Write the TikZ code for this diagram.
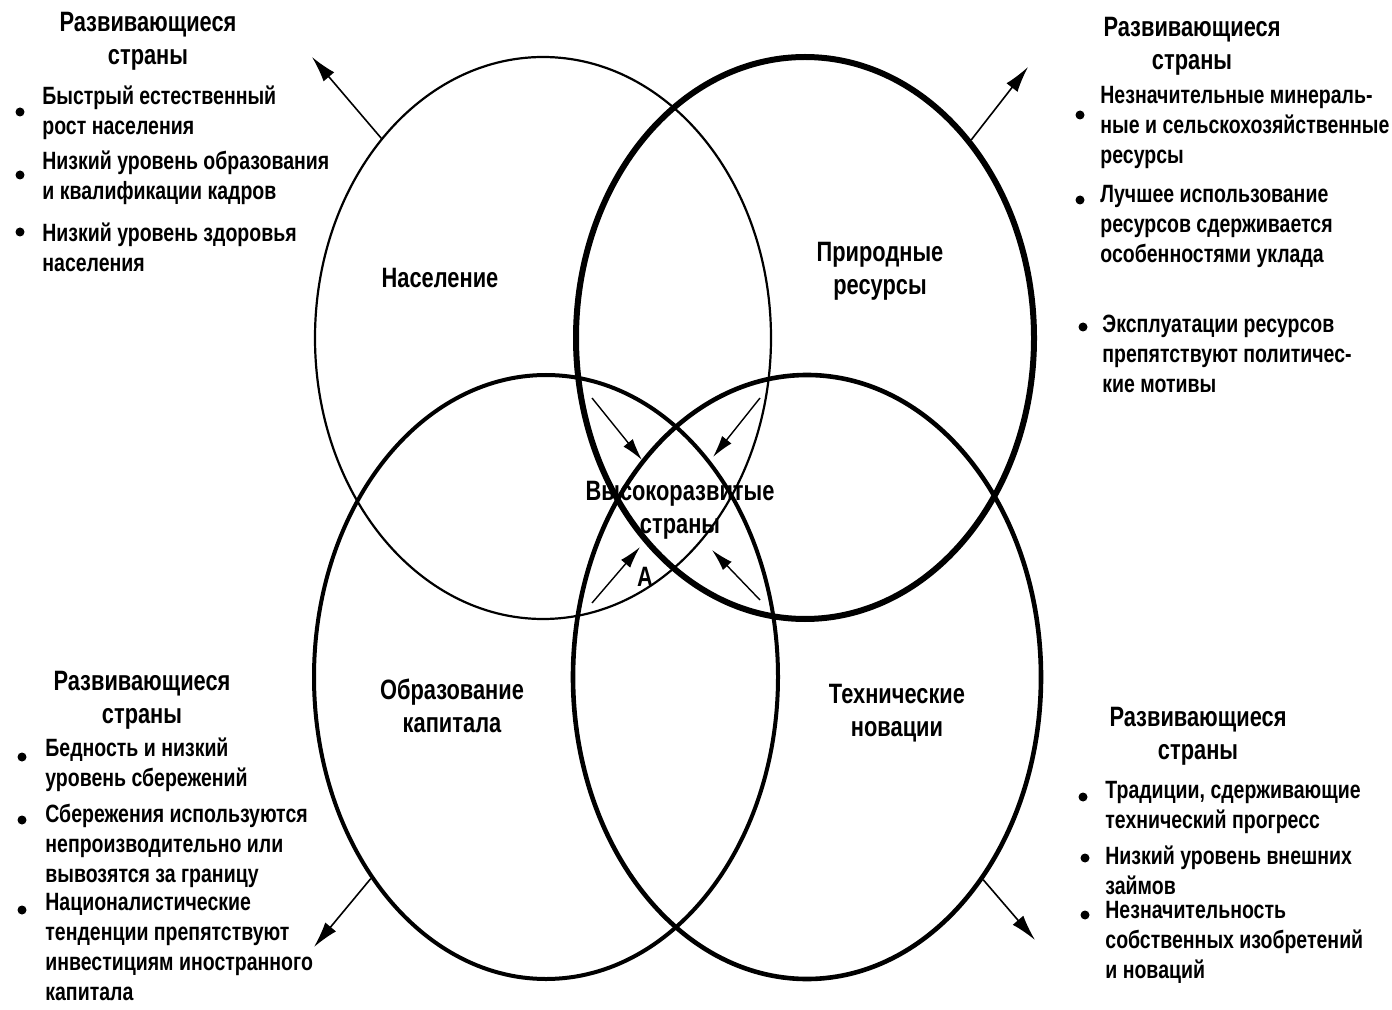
\documentclass[tikz,border=0pt]{standalone}
\usepackage{fontspec}
\setmainfont[FakeStretch=0.78]{Liberation Sans}
\usetikzlibrary{shapes.geometric,arrows.meta}

\begin{document}
\begin{tikzpicture}[x=0.5pt, y=-0.5pt,
    ring/.style={draw, ellipse, inner sep=0pt},
    hdr/.style={font=\fontsize{14}{16.5}\selectfont\bfseries, align=center, inner sep=0pt},
    txt/.style={font=\fontsize{12.5}{15}\selectfont\bfseries, align=left, anchor=west, inner sep=0pt},
    bul/.style={circle, fill=black, inner sep=0pt, minimum size=4.5pt},
    outarr/.style={line width=0.8pt, -{Latex[length=13pt, width=7pt]}},
    inarr/.style={line width=0.7pt, -{Latex[length=11pt, width=6pt]}}]
        \useasboundingbox (0,0) rectangle (1392,1010);

        % the four circles
        \node[ring, minimum width=228pt, minimum height=281pt, line width=1.1pt] (nas) at (543,338) {};
        \node[ring, minimum width=229pt, minimum height=281pt, line width=3pt] (res) at (805,338) {};
        \node[ring, minimum width=232pt, minimum height=302pt, line width=2pt] (cap) at (546,677) {};
        \node[ring, minimum width=234pt, minimum height=302pt, line width=2.3pt] (tech) at (807,677) {};

        \node[hdr] (l1) at (440,278) {Население};
        \node[hdr] (l2) at (880,271) {Природные\\ресурсы};
        \node[hdr] (l3) at (452,706) {Образование\\капитала};
        \node[hdr] (l4) at (897,713) {Технические\\новации};
        \node[hdr] (mid) at (680,510) {Высокоразвитые\\страны};
        \node[hdr] (a) at (645,577) {А};

        % arrows out of the circles
        \coordinate (tl) at (312,57);
        \coordinate (tr) at (1028,67);
        \coordinate (bl) at (314,947);
        \coordinate (br) at (1035,940);
        \draw[outarr] (nas.129) -- (tl);
        \draw[outarr] (res.50) -- (tr);
        \draw[outarr] (cap.229) -- (bl);
        \draw[outarr] (tech.311) -- (br);

        % arrows into the middle
        \coordinate (i1) at (592,398);
        \coordinate (i2) at (760,398);
        \coordinate (i3) at (592,603);
        \coordinate (i4) at (760,600);
        \coordinate (j1) at (642,460);
        \coordinate (j2) at (713,457);
        \coordinate (j3) at (640,547);
        \coordinate (j4) at (712,550);
        \draw[inarr] (i1) -- (j1);
        \draw[inarr] (i2) -- (j2);
        \draw[inarr] (i3) -- (j3);
        \draw[inarr] (i4) -- (j4);

        % top left
        \node[hdr] (h1) at (148,41) {Развивающиеся\\страны};
        \node[bul] (d11) at (20,112) {};
        \node[txt] (t11) at (42,113) {Быстрый естественный\\рост населения};
        \node[bul] (d12) at (20,175) {};
        \node[txt] (t12) at (42,178) {Низкий уровень образования\\и квалификации кадров};
        \node[bul] (d13) at (20,232) {};
        \node[txt] (t13) at (42,247) {Низкий уровень здоровья\\населения};

        % top right
        \node[hdr] (h2) at (1192,46) {Развивающиеся\\страны};
        \node[bul] (d21) at (1080,115) {};
        \node[txt] (t21) at (1100,127) {Незначительные минераль-\\ные и сельскохозяйственные\\ресурсы};
        \node[bul] (d22) at (1080,200) {};
        \node[txt] (t22) at (1100,226) {Лучшее использование\\ресурсов сдерживается\\особенностями уклада};
        \node[bul] (d23) at (1083,327) {};
        \node[txt] (t23) at (1102,354) {Эксплуатации ресурсов\\препятствуют политичес-\\кие мотивы};

        % bottom left
        \node[hdr] (h3) at (142,700) {Развивающиеся\\страны};
        \node[bul] (d31) at (22,757) {};
        \node[txt] (t31) at (45,765) {Бедность и низкий\\уровень сбережений};
        \node[bul] (d32) at (22,820) {};
        \node[txt] (t32) at (45,846) {Сбережения используются\\непроизводительно или\\вывозятся за границу};
        \node[bul] (d33) at (22,910) {};
        \node[txt] (t33) at (45,947) {Националистические\\тенденции препятствуют\\инвестициям иностранного\\капитала};

        % bottom right
        \node[hdr] (h4) at (1198,736) {Развивающиеся\\страны};
        \node[bul] (d41) at (1083,797) {};
        \node[txt] (t41) at (1105,807) {Традиции, сдерживающие\\технический прогресс};
        \node[bul] (d42) at (1085,858) {};
        \node[txt] (t42) at (1105,870) {Низкий уровень внешних\\займов};
        \node[bul] (d43) at (1085,915) {};
        \node[txt] (t43) at (1105,942) {Незначительность\\собственных изобретений\\и новаций};
\end{tikzpicture}
\end{document}
